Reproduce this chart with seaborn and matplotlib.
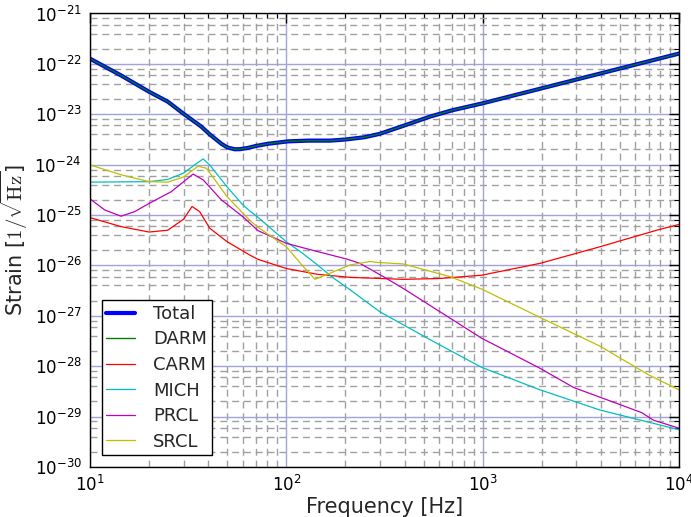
import numpy as np
import pandas as pd
import matplotlib
matplotlib.use("Agg")
import matplotlib.pyplot as plt
import matplotlib.ticker as mticker
import seaborn as sns

# ---- data ----
f_total = [10, 14.4, 20, 24.9, 30, 36.9, 40.7, 46.7, 50, 54.6, 58, 63.8, 70, 80.7, 102, 130, 167, 199, 250, 300,
           400, 540, 700, 1000, 3010, 10000]
total = [1.27e-22, 5.9e-23, 2.8e-23, 1.78e-23, 1.02e-23, 5.7e-24, 4.0e-24, 2.6e-24, 2.2e-24, 2.02e-24, 2.03e-24,
         2.15e-24, 2.35e-24, 2.6e-24, 2.9e-24, 3.0e-24, 3.0e-24, 3.15e-24, 3.5e-24, 4.1e-24,
         6.0e-24, 9.0e-24, 1.2e-23, 1.65e-23, 4.9e-23, 1.6e-22]
darm = total

f_carm = [10, 14.4, 20, 24.9, 30, 33.1, 36.2, 40.7, 50, 65.3, 71.8, 100, 143, 211, 394, 600, 988, 1960, 3960, 7700, 10000]
carm = [8.9e-26, 5.9e-26, 4.6e-26, 5.0e-26, 8.3e-26, 1.48e-25, 1.17e-25, 5.5e-26, 2.95e-26, 1.6e-26,
        1.32e-26, 8.7e-27, 6.7e-27, 5.8e-27, 5.3e-27, 5.5e-27, 6.4e-27, 1.1e-26, 2.35e-26, 5.0e-26, 6.5e-26]

f_mich = [10, 20, 24.9, 30, 34.1, 37.7, 40.7, 50, 60, 65.3, 71.8, 100, 117.5, 143, 174, 211, 300, 561, 988, 1960, 3960, 10000]
mich = [4.5e-25, 4.6e-25, 5.1e-25, 6.8e-25, 9.9e-25, 1.3e-24, 9.9e-25, 3.6e-25, 1.6e-25, 1.2e-25, 9.0e-26,
        2.95e-26, 1.9e-26, 1.05e-26, 5.6e-27, 3.3e-27, 1.2e-27, 3.1e-28, 9.5e-29, 3.4e-29, 1.35e-29, 5.5e-30]

f_prcl = [10, 11.9, 14.4, 16.9, 20, 25.9, 30, 33.5, 37.7, 46.7, 60, 71.8, 100, 143, 203, 237, 312, 394, 988,
          1960, 2900, 6460, 7410, 10000]
prcl = [2.1e-25, 1.26e-25, 9.5e-26, 1.17e-25, 1.7e-25, 2.9e-25, 4.6e-25, 6.5e-25, 5.0e-25, 2.0e-25, 9.3e-26,
        4.9e-26, 2.75e-26, 1.9e-26, 1.34e-26, 1.1e-26, 6.0e-27, 3.5e-27, 3.6e-28, 9.1e-29, 3.8e-29, 1.2e-29,
        8.5e-30, 5.9e-30]

f_srcl = [10, 14.4, 20, 24.9, 30, 35.5, 39.2, 50, 65.3, 71.8, 100, 122, 140, 167, 211, 267, 289, 394, 682, 988,
          1960, 3960, 6980, 10000]
srcl = [9.9e-25, 6.3e-25, 4.6e-25, 4.5e-25, 5.7e-25, 9.3e-25, 8.5e-25, 2.3e-25, 7.8e-26, 5.7e-26, 2.35e-26,
        9.5e-27, 5.3e-27, 7.0e-27, 1.02e-26, 1.2e-26, 1.15e-26, 1.07e-26, 6.0e-27, 3.4e-27, 9.3e-28, 2.5e-28,
        6.8e-29, 3.4e-29]

labels = ["Total", "DARM", "CARM", "MICH", "PRCL", "SRCL"]
xticks_exp = [1, 2, 3, 4]
yticks_exp = list(range(-30, -20))

# ---- style ----
sns.set_style("white")
plt.rcParams["font.family"] = ["DejaVu Sans"]
plt.rcParams["mathtext.fontset"] = "cm"
plt.rcParams["axes.unicode_minus"] = False

fig = plt.figure(figsize=(6.91, 5.17), dpi=100)
ax = fig.add_axes([0.1302, 0.0967, 0.8524, 0.8772])
ax.set_xscale("log")
ax.set_yscale("log")

series = [
    (f_total, total, labels[0], (0, 0, 1), 3.0),
    (f_total, darm, labels[1], (0, 0.5, 0), 1.0),
    (f_carm, carm, labels[2], (1, 0, 0), 0.9),
    (f_mich, mich, labels[3], (0, 0.75, 0.75), 0.9),
    (f_prcl, prcl, labels[4], (0.75, 0, 0.75), 0.9),
    (f_srcl, srcl, labels[5], (0.75, 0.75, 0), 0.9),
]
for fx, vy, lab, col, lw in series:
    df = pd.DataFrame({"freq": fx, "val": vy})
    sns.lineplot(data=df, x="freq", y="val", ax=ax, color=col, linewidth=lw, label=lab)

ax.set_xlim(10, 1e4)
ax.set_ylim(1e-30, 1e-21)

ax.xaxis.set_major_locator(mticker.FixedLocator([10.0 ** e for e in xticks_exp]))
ax.xaxis.set_minor_locator(mticker.LogLocator(base=10, subs=np.arange(2, 10), numticks=50))
ax.yaxis.set_major_locator(mticker.FixedLocator([10.0 ** e for e in yticks_exp]))
ax.yaxis.set_minor_locator(mticker.LogLocator(base=10, subs=[2, 4, 6, 8], numticks=50))
ax.xaxis.set_major_formatter(mticker.LogFormatterMathtext())
ax.yaxis.set_major_formatter(mticker.LogFormatterMathtext())
ax.xaxis.set_minor_formatter(mticker.NullFormatter())
ax.yaxis.set_minor_formatter(mticker.NullFormatter())

ax.set_axisbelow(True)
ax.grid(which="major", color="#a3a3dc", linestyle="-", linewidth=1.0)
ax.grid(which="minor", color="#a0a0a0", linestyle=(0, (5, 3.5)), linewidth=1.0)

ax.tick_params(which="both", direction="in", top=True, right=True, colors="black", labelsize=12)
ax.tick_params(which="major", length=7, width=1, pad=6)
ax.tick_params(which="minor", length=3.5, width=0.8)
for s in ax.spines.values():
    s.set_color("black")
    s.set_linewidth(1.0)

ax.set_xlabel("Frequency [Hz]", fontsize=15, labelpad=1)
ax.set_ylabel(r"Strain [$1/\sqrt{\mathrm{Hz}}$]", fontsize=15, labelpad=3)

leg = ax.legend(loc="lower left", fontsize=13, handlelength=1.6, handletextpad=1.0,
                labelspacing=0.42, borderpad=0.25, borderaxespad=0.65, fancybox=False,
                framealpha=1, edgecolor="black")
leg.get_frame().set_linewidth(1.0)

fig.savefig("out.png", dpi=100)
